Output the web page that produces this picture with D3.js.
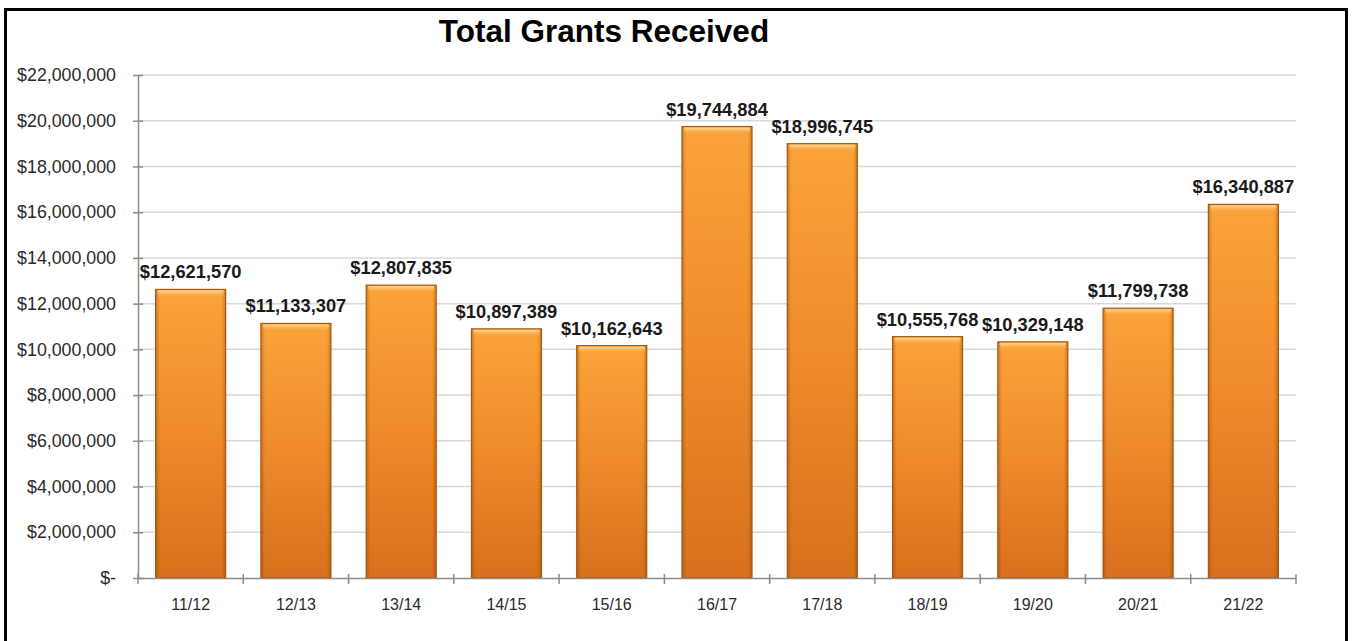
<!DOCTYPE html>
<html>
<head>
<meta charset="utf-8">
<script src="https://cdn.jsdelivr.net/npm/d3@7"></script>
<style>
  html, body { margin: 0; padding: 0; background: #fff; }
  svg { display: block; font-family: "Liberation Sans", Arial, sans-serif; }
</style>
</head>
<body>
<svg id="chart" width="1354" height="641"></svg>
<script>
// Fiscal years and total grants received
const years = ["11/12", "12/13", "13/14", "14/15", "15/16", "16/17", "17/18", "18/19", "19/20", "20/21", "21/22"];
const grants = [12621570, 11133307, 12807835, 10897389, 10162643, 19744884, 18996745, 10555768, 10329148, 11799738, 16340887];
const yTicks = [0, 2000000, 4000000, 6000000, 8000000, 10000000, 12000000, 14000000, 16000000, 18000000, 20000000, 22000000];
const chartTitle = "Total Grants Received";

const svg = d3.select("#chart");
const W = 1354, H = 641;
const plot = { left: 138, right: 1296, top: 75, bottom: 578 };

const x = d3.scaleBand().domain(years).range([plot.left, plot.right]).paddingInner(0.335).paddingOuter(0.1675);
const y = d3.scaleLinear().domain([0, 22000000]).range([plot.bottom, plot.top]);

const money = d => d === 0 ? "$-" : "$" + d3.format(",")(d);

// Gradients for the bars
const defs = svg.append("defs");
const vg = defs.append("linearGradient").attr("id", "barV").attr("x1", 0).attr("y1", 0).attr("x2", 0).attr("y2", 1);
vg.append("stop").attr("offset", "0%").attr("stop-color", "#fba33a");
vg.append("stop").attr("offset", "45%").attr("stop-color", "#f08d2c");
vg.append("stop").attr("offset", "100%").attr("stop-color", "#d8701d");
const hg = defs.append("linearGradient").attr("id", "barH").attr("x1", 0).attr("y1", 0).attr("x2", 1).attr("y2", 0);
hg.append("stop").attr("offset", "0%").attr("stop-color", "#7a3a00").attr("stop-opacity", 0.35);
hg.append("stop").attr("offset", "6%").attr("stop-color", "#7a3a00").attr("stop-opacity", 0.0);
hg.append("stop").attr("offset", "94%").attr("stop-color", "#7a3a00").attr("stop-opacity", 0.0);
hg.append("stop").attr("offset", "100%").attr("stop-color", "#7a3a00").attr("stop-opacity", 0.35);
const tg = defs.append("linearGradient").attr("id", "barTop").attr("x1", 0).attr("y1", 0).attr("x2", 0).attr("y2", 1);
tg.append("stop").attr("offset", "0%").attr("stop-color", "#ffe0a8").attr("stop-opacity", 0.9);
tg.append("stop").attr("offset", "100%").attr("stop-color", "#fba33a").attr("stop-opacity", 0);

// Background
svg.append("rect").attr("width", W).attr("height", H).attr("fill", "#fff");

// Gridlines
svg.append("g")
  .selectAll("line")
  .data(yTicks.filter(d => d > 0))
  .join("line")
  .attr("x1", plot.left).attr("x2", plot.right)
  .attr("y1", d => y(d)).attr("y2", d => y(d))
  .attr("stroke", "#d9d9d9").attr("stroke-width", 1.5);

// Y axis
const yAxis = svg.append("g")
  .attr("transform", `translate(${plot.left},0)`)
  .call(d3.axisLeft(y).tickValues(yTicks).tickFormat(money).tickSizeInner(5).tickSizeOuter(0).tickPadding(17));
yAxis.select(".domain").attr("stroke", "#8c8c8c").attr("stroke-width", 1.5);
yAxis.selectAll(".tick line").attr("stroke", "#8c8c8c").attr("stroke-width", 1.5).attr("x2", -5).attr("x1", 5);
yAxis.selectAll(".tick text").attr("font-size", 17.8).attr("fill", "#2a2a2a").attr("font-family", "Liberation Sans, Arial, sans-serif");

// Bars
const bars = svg.append("g").selectAll("g").data(years).join("g");
bars.append("rect")
  .attr("x", d => x(d)).attr("y", (d, i) => y(grants[i]))
  .attr("width", x.bandwidth()).attr("height", (d, i) => y(0) - y(grants[i]))
  .attr("fill", "url(#barV)");
bars.append("rect")
  .attr("x", d => x(d)).attr("y", (d, i) => y(grants[i]))
  .attr("width", x.bandwidth()).attr("height", (d, i) => y(0) - y(grants[i]))
  .attr("fill", "url(#barH)")
  .attr("stroke", "#a8560f").attr("stroke-width", 1.2);
bars.append("rect")
  .attr("x", d => x(d) + 2).attr("y", (d, i) => y(grants[i]) + 1)
  .attr("width", x.bandwidth() - 4).attr("height", 7)
  .attr("fill", "url(#barTop)");

// X axis
const xAxis = svg.append("g")
  .attr("transform", `translate(0,${plot.bottom})`)
  .call(d3.axisBottom(x).tickSize(0).tickPadding(21));
xAxis.select(".domain").attr("stroke", "#8c8c8c").attr("stroke-width", 1.5);
xAxis.selectAll(".tick text").attr("font-size", 16).attr("fill", "#2a2a2a").attr("font-family", "Liberation Sans, Arial, sans-serif");
// Tick marks between categories
const edges = years.map(d => x(d) - x.step() * x.paddingInner() / 2).concat([plot.right]);
svg.append("g").selectAll("line").data(edges).join("line")
  .attr("x1", d => d).attr("x2", d => d)
  .attr("y1", plot.bottom - 4).attr("y2", plot.bottom + 6)
  .attr("stroke", "#8c8c8c").attr("stroke-width", 1.5);

// Value labels
svg.append("g").selectAll("text").data(years).join("text")
  .attr("x", d => x(d) + x.bandwidth() / 2)
  .attr("y", (d, i) => y(grants[i]) - 11)
  .attr("text-anchor", "middle")
  .attr("font-size", 18.3)
  .attr("font-weight", "bold")
  .attr("fill", "#1a1a1a")
  .text((d, i) => money(grants[i]));

// Title
svg.append("text")
  .attr("x", 604).attr("y", 42)
  .attr("text-anchor", "middle")
  .attr("font-size", 31.5).attr("font-weight", "bold").attr("fill", "#000")
  .text(chartTitle);

// Outer frame
svg.append("rect")
  .attr("x", 5.5).attr("y", 9.5).attr("width", 1341).attr("height", 640)
  .attr("fill", "none").attr("stroke", "#000").attr("stroke-width", 3);
</script>
</body>
</html>
